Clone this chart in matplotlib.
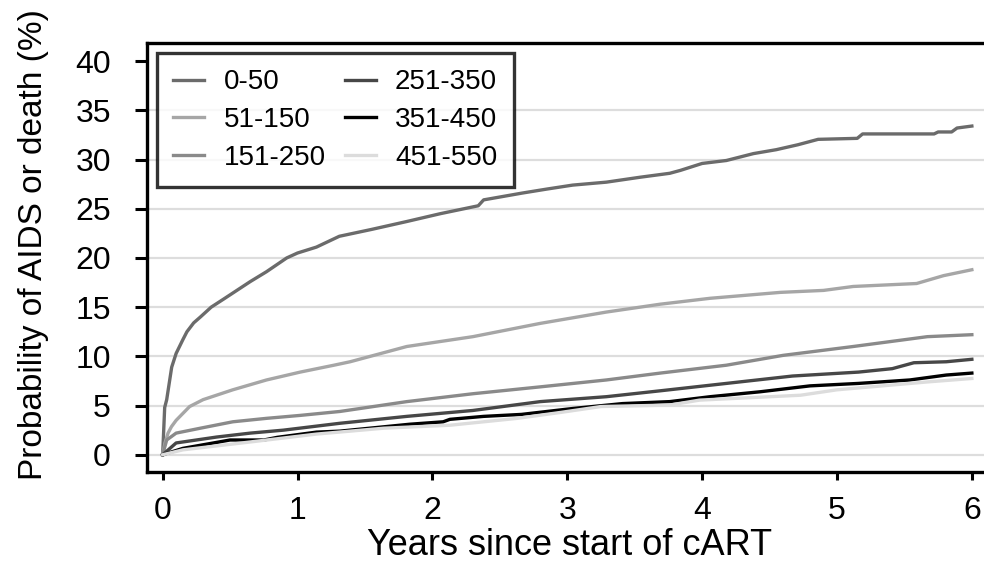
import matplotlib.pyplot as plt

plt.rcParams['font.family'] = ['Liberation Sans', 'DejaVu Sans']

# cumulative probability (%) by CD4 group
t_0_50 = [0, 0.015, 0.03, 0.067, 0.10, 0.15, 0.18, 0.23, 0.28, 0.36, 0.45, 0.55, 0.65,
          0.77, 0.92, 1.0, 1.14, 1.31, 1.55, 1.81, 2.06, 2.34, 2.38, 2.67, 2.85, 3.04,
          3.29, 3.54, 3.76, 3.84, 4.0, 4.18, 4.38, 4.55, 4.71, 4.86, 5.15, 5.19, 5.72,
          5.75, 5.85, 5.89, 6.0]
v_0_50 = [0, 4.8, 5.6, 8.9, 10.3, 11.7, 12.5, 13.4, 14.0, 15.0, 15.8, 16.7, 17.6,
          18.6, 20.0, 20.5, 21.1, 22.2, 22.9, 23.7, 24.5, 25.3, 25.9, 26.6, 27.0, 27.4,
          27.7, 28.2, 28.6, 28.9, 29.6, 29.9, 30.6, 31.0, 31.5, 32.05, 32.15, 32.6, 32.6,
          32.8, 32.8, 33.2, 33.4]

t_51_150 = [0, 0.017, 0.04, 0.065, 0.10, 0.15, 0.20, 0.30, 0.52, 0.77, 1.02, 1.27,
            1.39, 1.81, 2.30, 2.80, 3.29, 3.69, 4.06, 4.58, 4.9, 5.12, 5.59, 5.79, 6.0]
v_51_150 = [0, 1.2, 2.2, 2.85, 3.5, 4.2, 4.9, 5.6, 6.6, 7.6, 8.4, 9.1,
            9.45, 11.0, 12.0, 13.35, 14.5, 15.3, 15.9, 16.5, 16.7, 17.1, 17.4, 18.2, 18.8]

t_151_250 = [0, 0.03, 0.10, 0.28, 0.52, 0.77, 1.02, 1.315, 1.81, 2.30, 2.80, 3.29,
             3.69, 4.18, 4.6, 5.12, 5.67, 6.0]
v_151_250 = [0, 1.5, 2.2, 2.7, 3.35, 3.7, 4.0, 4.4, 5.4, 6.2, 6.9, 7.6,
             8.3, 9.1, 10.1, 11.0, 12.0, 12.2]

t_251_350 = [0, 0.10, 0.40, 0.65, 0.895, 1.315, 1.81, 2.30, 2.80, 3.29, 3.69, 4.18,
             4.67, 5.16, 5.41, 5.57, 5.81, 6.0]
v_251_350 = [0, 1.2, 1.8, 2.2, 2.5, 3.2, 3.9, 4.5, 5.4, 5.9, 6.5, 7.25,
             8.0, 8.4, 8.75, 9.35, 9.45, 9.7]

t_351_450 = [0, 0.15, 0.5, 0.75, 0.85, 1.14, 1.315, 1.83, 2.08, 2.13, 2.38, 2.66, 3.04,
             3.41, 3.76, 4.06, 4.43, 4.8, 5.16, 5.54, 5.81, 6.0]
v_351_450 = [0, 0.65, 1.5, 1.5, 1.77, 2.3, 2.4, 3.1, 3.35, 3.6, 3.9, 4.1, 4.7,
             5.2, 5.4, 5.9, 6.4, 7.0, 7.25, 7.6, 8.1, 8.3]

t_451_550 = [0, 0.15, 0.65, 1.14, 1.64, 2.13, 2.63, 2.95, 3.25, 3.76, 3.98, 4.73, 5.0,
             5.67, 6.0]
v_451_550 = [0, 0.5, 1.3, 2.1, 2.7, 3.0, 3.7, 4.3, 4.9, 5.05, 5.55, 6.05, 6.6,
             7.4, 7.75]

labels = ['0-50', '51-150', '151-250', '251-350', '351-450', '451-550']
colors = ['#6b6b6b', '#a6a6a6', '#8a8a8a', '#474747', '#000000', '#dcdcdc']
series = [(t_0_50, v_0_50), (t_51_150, v_51_150), (t_151_250, v_151_250),
          (t_251_350, v_251_350), (t_351_450, v_351_450), (t_451_550, v_451_550)]

fig = plt.figure(figsize=(9.84, 5.62), dpi=100)
ax = fig.add_axes([0.1494, 0.160, 0.8506, 0.7635])

for y in range(0, 40, 5):
    ax.axhline(y, color='#dddddd', lw=1.6, zorder=0)

for (t, v), lab, c in zip(series, labels, colors):
    ax.plot(t, v, color=c, lw=2.4, label=lab)

ax.set_xlim(-0.116, 6.09)
ax.set_ylim(-1.76, 41.84)
ax.set_xticks(range(0, 7))
ax.set_yticks(range(0, 41, 5))

ax.spines['right'].set_visible(False)
for s in ['left', 'top', 'bottom']:
    ax.spines[s].set_linewidth(2.4)

ax.tick_params(axis='y', length=9, width=2.2, labelsize=23, pad=17)
ax.tick_params(axis='x', length=6, width=2.2, labelsize=23, pad=11)

ax.set_xlabel('Years since start of cART', fontsize=26)
ax.set_ylabel('Probability of AIDS or death (%)', fontsize=24)
ax.xaxis.set_label_coords(0.505, -0.13)
ax.yaxis.set_label_coords(-0.117, 0.531)

leg = ax.legend(loc='upper left', ncol=2, fontsize=20, frameon=True, fancybox=False,
                edgecolor='black', borderaxespad=0.35, handlelength=1.1,
                handletextpad=0.7, columnspacing=0.7, labelspacing=0.42,
                borderpad=0.6)
leg.get_frame().set_linewidth(2.4)

fig.savefig('out.png', dpi=100)
